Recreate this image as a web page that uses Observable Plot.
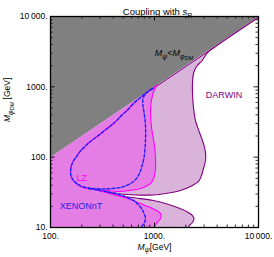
<!DOCTYPE html>
<html><head><meta charset="utf-8">
<script src="https://cdn.jsdelivr.net/npm/d3@7"></script>
<script src="https://cdn.jsdelivr.net/npm/@observablehq/plot@0.6"></script>
<style>body{margin:0;background:#fff}</style>
</head><body><div id="chart"></div>
<script>
const xTicks = [100, 1000, 10000];
const xTickLabels = ["100.", "1000.", "10\u2009000."];
const yTicks = [10, 100, 1000, 10000];
const yTickLabels = ["10.", "100.", "1000.", "10\u2009000."];
const xMinor = [200,300,400,500,600,700,800,900,2000,3000,4000,5000,6000,7000,8000,9000];
const yMinor = [20,30,40,50,60,70,80,90,200,300,400,500,600,700,800,900,2000,3000,4000,5000,6000,7000,8000,9000];

const forbidden = [[100,100],[100,10000],[10000,10000]];

const darwinUpper = [[10000,9700],[3860,3750],[3233,3077],[2875,2368],[2534,1946],[2371,1548],[2320,1153],[2320,804],[2371,508],[2479,332],[2708,224],[2959,156],[3093,116],[3093,89.7],[2959,69.0],[2831,54.9],[2649,45.1],[2219,38.3],[1778,33.6],[1276,30.4],[978,29.0],[657,29.0],[471,29.9],[338,32.5]];
const darwinLower = [[338,32.0],[471,28.0],[657,26.3],[978,24.2],[1276,21.9],[1664,19.2],[2032,16.9],[2320,14.8],[2398,13.4],[2320,11.8],[2170,10.7],[2123,10]];
const darwinEdge = [[3860,3750],[900,875]];

const lzArc = [[1069,1062],[957,947],[838,831],[734,705],[642,599],[562,484],[481,391],[419,316],[346,252],[289,203],[242,167],[216,144],[192,120],[178,102],[166,88.2],[159,76.1],[156,64.7],[157,54.9],[166,46.6],[182,40.9],[203,37.0],[271,34.7]];
const lzRight = [[1069,1062],[1000,917],[957,753],[925,580],[915,432],[936,264],[1000,146.5],[1022,98.9],[1022,69.0],[989,51.4],[915,42.2],[734,35.8],[628,34.1],[471,32.5],[361,33.6],[271,34.7]];
const lzLower = [[271,34.1],[361,30.9],[471,27.6],[588,25.0],[734,21.9],[915,19.2],[1069,17.2],[1155,15.3],[1142,13.4],[1081,12.2],[1022,10.8],[989,10]];

const xenArc = [[957,947],[838,831],[734,705],[642,599],[562,484],[481,391],[419,316],[346,252],[289,203],[242,167],[216,144],[192,120],[178,102],[166,88.2],[159,76.1],[156,64.7],[157,54.9],[166,46.6],[182,41.6],[201,38.3],[232,36.4]];
const xenRight = [[957,947],[838,817],[775,683],[775,543],[801,391],[819,282],[819,173],[793,98.9],[750,71.3],[710,56.7],[628,45.1],[492,37.7],[378,35.8],[303,35.3],[232,36.4]];
const xenLower = [[232,35.8],[303,33.6],[378,31.5],[471,29.0],[550,26.7],[628,24.2],[687,21.6],[750,18.6],[793,15.8],[819,13.4],[801,11.8],[767,10.7],[742,10]];

const labels = [
  {text: "DARWIN", x: 4656, y: 753, color: "#800080"},
  {text: "XENONnT", x: 196, y: 19.9, color: "#2323e6"},
  {text: "LZ", x: 200, y: 49.7, color: "#ff00ff"},
  {text: "Mψ<MφDM", x: 1540, y: 2979, color: "#000000"}
];

const darwinFill = [[100,100],[10000,10000], ...darwinUpper, ...darwinLower, [100,10]];
const lzFill = [[100,100], ...lzRight, ...lzLower, [100,10]];

const W = 274, H = 257, mL = 50, mR = 16, mT = 16, mB = 30;
const fw = W - mL - mR, fh = H - mT - mB;
const px = d => d[0], py = d => d[1];
const ln = (arr, o) => Plot.line(arr, {x: px, y: py, curve: "catmull-rom", clip: true, ...o});

const chart = Plot.plot({
  width: W, height: H,
  marginLeft: mL, marginRight: mR, marginTop: mT, marginBottom: mB,
  style: {fontFamily: "Liberation Sans, Arial, sans-serif", fontSize: "8.5px", background: "white", color: "black"},
  x: {type: "log", domain: [100, 10000]},
  y: {type: "log", domain: [10, 10000]},
  color: {type: "identity"},
  marks: [
    Plot.line(forbidden, {x: px, y: py, fill: "#808080", stroke: "none"}),
    Plot.line(darwinFill, {x: px, y: py, fill: "#d9b3d9", stroke: "none", clip: true}),
    Plot.line(lzFill, {x: px, y: py, fill: "#e47de4", stroke: "none", clip: true}),
    ln(darwinEdge, {stroke: "#800080", strokeWidth: 1}),
    ln(darwinUpper, {stroke: "#800080", strokeWidth: 1.1}),
    ln(darwinLower, {stroke: "#800080", strokeWidth: 1.1}),
    ln(lzArc, {stroke: "#ff00ff", strokeWidth: 1.1}),
    ln(lzRight, {stroke: "#ff00ff", strokeWidth: 1.1}),
    ln(lzLower, {stroke: "#ff00ff", strokeWidth: 1.1}),
    ln(xenArc, {stroke: "#1f1fff", strokeWidth: 1.4, strokeDasharray: "3,2"}),
    ln(xenRight, {stroke: "#1f1fff", strokeWidth: 1.4, strokeDasharray: "3,2"}),
    ln(xenLower, {stroke: "#1f1fff", strokeWidth: 1.4, strokeDasharray: "3,2"}),
    Plot.tickX(xMinor, {x: d => d, stroke: "black", strokeWidth: 0.8, insetTop: fh - 2.5}),
    Plot.tickX(xMinor, {x: d => d, stroke: "black", strokeWidth: 0.8, insetBottom: fh - 2.5}),
    Plot.tickX(xTicks, {x: d => d, stroke: "black", strokeWidth: 0.9, insetTop: fh - 4.5}),
    Plot.tickX(xTicks, {x: d => d, stroke: "black", strokeWidth: 0.9, insetBottom: fh - 4.5}),
    Plot.tickY(yMinor, {y: d => d, stroke: "black", strokeWidth: 0.8, insetRight: fw - 2.5}),
    Plot.tickY(yMinor, {y: d => d, stroke: "black", strokeWidth: 0.8, insetLeft: fw - 2.5}),
    Plot.tickY(yTicks, {y: d => d, stroke: "black", strokeWidth: 0.9, insetRight: fw - 4.5}),
    Plot.tickY(yTicks, {y: d => d, stroke: "black", strokeWidth: 0.9, insetLeft: fw - 4.5}),
    Plot.frame({stroke: "black", strokeWidth: 1.3}),
    Plot.axisX(xTicks, {tickSize: 0, tickPadding: 5, label: null, tickFormat: d => xTickLabels[xTicks.indexOf(d)]}),
    Plot.axisY(yTicks, {tickSize: 0, tickPadding: 3, label: null, tickFormat: d => yTickLabels[yTicks.indexOf(d)]}),
    Plot.text(labels, {x: "x", y: "y", text: "text", fill: "color", fontSize: 9}),
    Plot.text(["Coupling with sR"], {text: d => d, frameAnchor: "top", dy: -8, dx: 3, fontSize: 9.5}),
    Plot.text(["Mψ [GeV]"], {text: d => d, frameAnchor: "bottom", dy: 22, fontSize: 8.5}),
    Plot.text(["MφDM [GeV]"], {text: d => d, frameAnchor: "left", dx: -43, rotate: -90, fontSize: 8.5})
  ]
});

const I = s => `<tspan font-style="italic">${s}</tspan>`;
const rich = {
  "Coupling with sR": `Coupling with ${I("s")}<tspan dy="2.5" font-size="7">R</tspan>`,
  "Mψ [GeV]": `${I("M")}<tspan dy="2.5" font-size="7" font-style="italic">ψ</tspan><tspan dy="-2.5">[GeV]</tspan>`,
  "MφDM [GeV]": `${I("M")}<tspan dy="2.5" font-size="7" font-style="italic">φ</tspan><tspan dy="1.5" font-size="5.5">DM</tspan><tspan dy="-4"> [GeV]</tspan>`,
  "Mψ<MφDM": `${I("M")}<tspan dy="2.5" font-size="7" font-style="italic">ψ</tspan><tspan dy="-2.5">&lt;</tspan>${I("M")}<tspan dy="2.5" font-size="7" font-style="italic">φ</tspan><tspan dy="1.5" font-size="5.5">DM</tspan>`
};
d3.select(chart).selectAll("text").each(function() {
  const t = this.textContent;
  if (rich[t]) this.innerHTML = rich[t];
});
document.getElementById("chart").appendChild(chart);
</script>
</body></html>
